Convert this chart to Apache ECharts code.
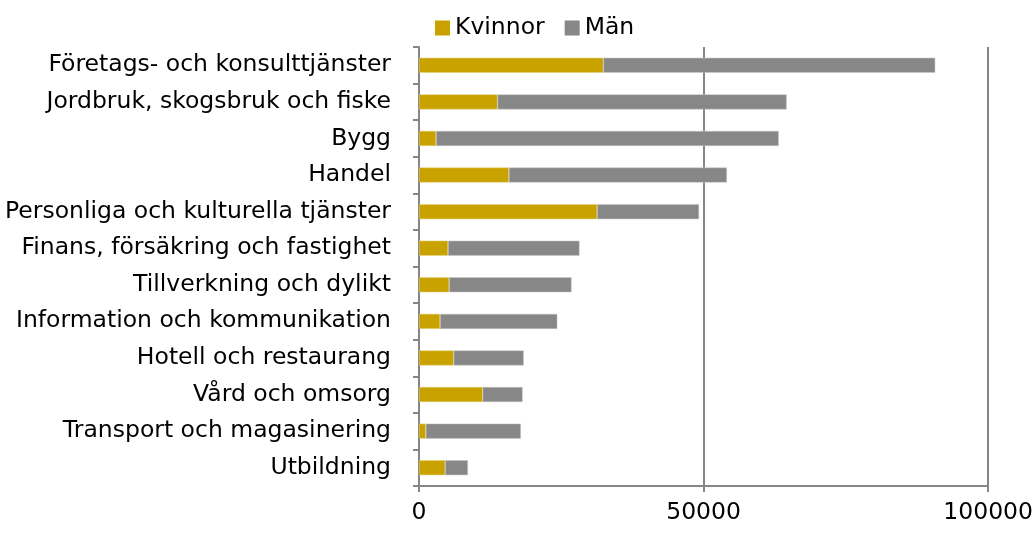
<!DOCTYPE html>
<html>
<head>
<meta charset="utf-8">
<script src="https://cdn.jsdelivr.net/npm/echarts@6/dist/echarts.min.js"></script>
<style>
  html, body { margin: 0; padding: 0; background: #fff; }
  #chart { width: 1036px; height: 533px; }
</style>
</head>
<body>
<div id="chart"></div>
<script>
// branscher, uppifrån och ned
const branscher = [
    'Företags- och konsulttjänster',
    'Jordbruk, skogsbruk och fiske',
    'Bygg',
    'Handel',
    'Personliga och kulturella tjänster',
    'Finans, försäkring och fastighet',
    'Tillverkning och dylikt',
    'Information och kommunikation',
    'Hotell och restaurang',
    'Vård och omsorg',
    'Transport och magasinering',
    'Utbildning'
];
const kvinnor = [32400, 13800, 3000, 15800, 31300, 5100, 5300, 3700, 6100, 11200, 1200, 4600];
const man = [58300, 50800, 60200, 38300, 17900, 23100, 21500, 20600, 12300, 7000, 16700, 4000];
const xTicks = [0, 50000, 100000];

let chartDom = document.getElementById('chart');
let chart = echarts.init(chartDom);
var option;

const fontFam = '"DejaVu Sans", Verdana, sans-serif';
const fs = 23.5;

option = {
    animation: false,
    textStyle: { fontFamily: fontFam },
    legend: {
        top: 11,
        left: 430,
        itemWidth: 15,
        itemHeight: 15,
        itemGap: 20,
        icon: 'rect',
        itemStyle: { borderWidth: 0 },
        textStyle: { fontSize: fs, color: '#000', fontFamily: fontFam },
        data: ['Kvinnor', 'Män']
    },
    grid: {
        left: 419,
        right: 46,
        top: 47,
        bottom: 47,
        containLabel: false
    },
    xAxis: {
        type: 'value',
        min: xTicks[0],
        max: xTicks[xTicks.length - 1],
        interval: 50000,
        axisLine: { show: true, lineStyle: { color: '#868686', width: 2 } },
        axisTick: { show: true, length: 6, lineStyle: { color: '#868686', width: 2 } },
        axisLabel: { fontSize: fs, color: '#000', margin: 15, fontFamily: fontFam, formatter: v => String(v) },
        splitLine: { show: true, lineStyle: { color: '#868686', width: 2 } }
    },
    yAxis: {
        type: 'category',
        inverse: true,
        data: branscher,
        axisLine: { show: true, lineStyle: { color: '#868686', width: 2 } },
        axisTick: { show: true, length: 6, lineStyle: { color: '#868686', width: 2 } },
        axisLabel: { fontSize: fs, color: '#000', margin: 28, fontFamily: fontFam }
    },
    series: [
        {
            name: 'Kvinnor',
            type: 'bar',
            stack: 'total',
            barWidth: 15,
            itemStyle: { color: '#C9A200', borderColor: '#e3d27a', borderWidth: 0.5 },
            data: kvinnor
        },
        {
            name: 'Män',
            type: 'bar',
            stack: 'total',
            barWidth: 15,
            itemStyle: { color: '#878787', borderColor: '#c8c8c8', borderWidth: 0.5 },
            data: man
        }
    ]
};
chart.setOption(option);
</script>
</body>
</html>
